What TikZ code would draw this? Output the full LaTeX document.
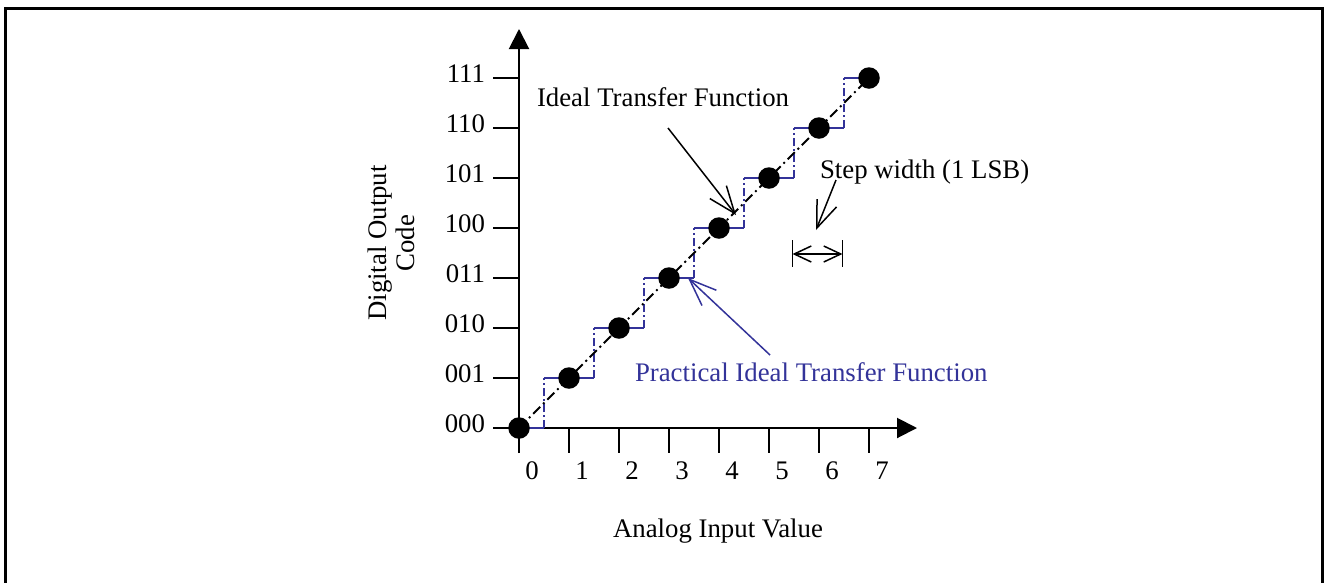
\documentclass[tikz,border=0pt]{standalone}
\usepackage{fontspec}
\setmainfont{Liberation Serif}
\usetikzlibrary{arrows.meta}
\definecolor{pblue}{RGB}{51,51,153}
\begin{document}
\begin{tikzpicture}[x=1pt, y=-1pt,
  font=\fontsize{26.8}{28}\selectfont,
  lbl/.style={inner sep=0pt, outer sep=0pt},
  dot/.style={circle, fill=black, minimum size=21.5pt, inner sep=0pt},
  axisline/.style={line width=2pt},
  axistip/.style={-{Triangle[length=20pt, width=20pt]}},
  barb/.style={-{Straight Barb[length=27pt, width=21pt]}},
  pointer/.style={line width=1.5pt, barb},
  ideal/.style={line width=1.8pt, dash pattern=on 10pt off 4pt on 2pt off 4pt},
  riser/.style={pblue, line width=1.5pt, dash pattern=on 8pt off 3pt on 2pt off 3pt},
  tread/.style={pblue, line width=1.5pt}
]
\useasboundingbox (0,0) rectangle (1325,582);
% outer frame
\draw[line width=3pt] (5.5,8.7) rectangle (1322.8,600);

% axes
\coordinate (ybot) at (519,453);
\coordinate (ytop) at (519,29);
\coordinate (xleft) at (493,428);
\coordinate (xend) at (917,428);
\draw[axisline, axistip] (ybot) -- (ytop);
\draw[axisline, axistip] (xleft) -- (xend);

% ticks and tick labels
\foreach \k/\c in {0/000,1/001,2/010,3/011,4/100,5/101,6/110,7/111}{
  \coordinate (yt\k) at (493,{428-50*\k});
  \coordinate (ya\k) at (519,{428-50*\k});
  \draw[axisline] (yt\k) -- (ya\k);
  \node[lbl, anchor=base east] (ylab\k) at (485,{432-50*\k}) {\c};
  \coordinate (xa\k) at ({519+50*\k},428);
  \coordinate (xt\k) at ({519+50*\k},453);
  \draw[axisline] (xa\k) -- (xt\k);
  \node[lbl, anchor=base] (xlab\k) at ({532+50*\k},479) {\k};
}

% staircase of the practical transfer function
\foreach \k in {0,...,6}{
  \coordinate (sa\k) at ({544+50*\k},{428-50*\k});
  \coordinate (sb\k) at ({544+50*\k},{378-50*\k});
  \draw[riser] (sa\k) -- (sb\k);
}
\foreach \k in {1,...,6}{
  \coordinate (ha\k) at ({494+50*\k},{428-50*\k});
  \coordinate (hb\k) at ({544+50*\k},{428-50*\k});
  \draw[tread] (ha\k) -- (hb\k);
}
\coordinate (h0a) at (519,428);
\coordinate (h0b) at (544,428);
\draw[tread] (h0a) -- (h0b);
\coordinate (h7a) at (844,78);
\coordinate (h7b) at (869,78);
\draw[tread] (h7a) -- (h7b);

% ideal transfer line and code points
\coordinate (p0) at (519,428);
\coordinate (p7) at (869,78);
\draw[ideal] (p0) -- (p7);
\foreach \k in {0,...,7}{
  \node[dot] (d\k) at ({519+50*\k},{428-50*\k}) {};
}

% labels and pointers
\node[lbl, anchor=base west] (idealtxt) at (537,106) {Ideal Transfer Function};
\coordinate (it) at (668,128);
\coordinate (ih) at (736,215);
\draw[pointer] (it) -- (ih);

\node[lbl, anchor=base west, text=pblue] (practxt) at (635,381) {Practical Ideal Transfer Function};
\coordinate (pt) at (770,355);
\coordinate (ph) at (688,278);
\draw[pointer, pblue] (pt) -- (ph);

\node[lbl, anchor=base west] (steptxt) at (820,178) {Step width (1 LSB)};
\coordinate (st) at (836,180);
\coordinate (sh) at (816,230);
\draw[pointer] (st) -- (sh);

% one-LSB dimension
\coordinate (b1t) at (792.5,240);
\coordinate (b1b) at (792.5,267);
\coordinate (b2t) at (842.5,240);
\coordinate (b2b) at (842.5,267);
\draw[line width=1.5pt] (b1t) -- (b1b);
\draw[line width=1.5pt] (b2t) -- (b2b);
\coordinate (dl) at (792.5,254);
\coordinate (dr) at (842.5,254);
\draw[line width=1.5pt, {Straight Barb[length=17pt, width=16pt]}-{Straight Barb[length=17pt, width=16pt]}] (dl) -- (dr);

% axis titles
\node[lbl, rotate=90, align=center] (ytitle) at (391,243) {Digital Output\\Code};
\node[lbl, anchor=base] (xtitle) at (718,537) {Analog Input Value};
\end{tikzpicture}
\end{document}
